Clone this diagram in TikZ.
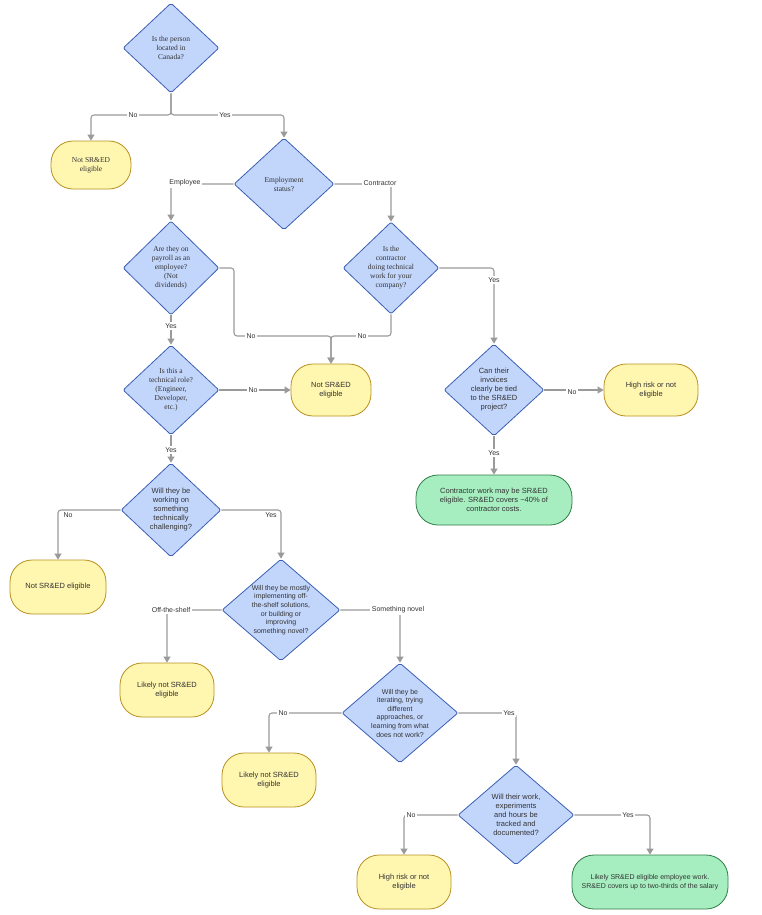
\documentclass[tikz,border=0pt]{standalone}
\usepackage{fontspec}
\setmainfont{Liberation Serif}
\setsansfont{Liberation Sans}
\usetikzlibrary{shapes.geometric,arrows.meta}
\definecolor{dfill}{HTML}{C2D5FB}
\definecolor{dline}{HTML}{3B5FB5}
\definecolor{yfill}{HTML}{FFF6B0}
\definecolor{yline}{HTML}{B8901E}
\definecolor{gfill}{HTML}{A6EEC0}
\definecolor{gline}{HTML}{2E7D46}
\definecolor{cline}{HTML}{9A9A9A}
\definecolor{tcol}{HTML}{333333}
\tikzset{
  dia/.style n args={2}{diamond,draw=dline,fill=dfill,line width=0.8pt,rounded corners=2pt,minimum width=#1,minimum height=#2,inner sep=0pt},
  dtxt/.style={align=center,font=\fontsize{7.5}{9}\selectfont,text=tcol},
  dtxts/.style={align=center,font=\sffamily\fontsize{7}{8.6}\selectfont,text=tcol},
  ybox/.style n args={2}{rectangle,rounded corners=22pt,draw=yline,fill=yfill,line width=0.8pt,minimum width=#1,minimum height=#2,align=center,font=\sffamily\fontsize{7.5}{9}\selectfont,text=tcol},
  gbox/.style n args={2}{rectangle,rounded corners=22pt,draw=gline,fill=gfill,line width=0.8pt,minimum width=#1,minimum height=#2,align=center,font=\sffamily\fontsize{7.5}{9}\selectfont,text=tcol},
  conn/.style={draw=cline,line width=1.1pt,rounded corners=3pt,-{Triangle[length=6pt,width=7pt]}},
  lbl/.style={fill=white,inner sep=1.5pt,font=\sffamily\fontsize{7}{8}\selectfont,text=tcol},
}
\begin{document}
\begin{tikzpicture}[x=1pt,y=-1pt]
\useasboundingbox (0,0) rectangle (761,915);
% diamonds
\node[dia={96}{90}] (d1) at (171,48) {};
\node[dtxt] (d1t) at (d1) {Is the person\\located in\\Canada?};
\node[dia={100}{92}] (d2) at (284,184) {};
\node[dtxt] (d2t) at (d2) {Employment\\status?};
\node[dia={96}{94}] (d3) at (171,268) {};
\node[dtxt] (d3t) at (d3) {Are they on\\payroll as an\\employee?\\(Not\\dividends)};
\node[dia={96}{92}] (d4) at (391,268) {};
\node[dtxt] (d4t) at (d4) {Is the\\contractor\\doing technical\\work for your\\company?};
\node[dia={96}{90}] (d5) at (171,390) {};
\node[dtxt] (d5t) at (d5) {Is this a\\technical role?\\(Engineer,\\Developer,\\etc.)};
\node[dia={100}{92}] (d6) at (494,390) {};
\node[dtxts,font=\sffamily\fontsize{7.5}{9}\selectfont] (d6t) at (d6) {Can their\\invoices\\clearly be tied\\to the SR\&ED\\project?};
\node[dia={100}{94}] (d7) at (171,510) {};
\node[dtxts,font=\sffamily\fontsize{7.5}{9}\selectfont] (d7t) at (d7) {Will they be\\working on\\something\\technically\\challenging?};
\node[dia={118}{102}] (d8) at (281,610) {};
\node[dtxts] (d8t) at (d8) {Will they be mostly\\implementing off-\\the-shelf solutions,\\or building or\\improving\\something novel?};
\node[dia={116}{100}] (d9) at (400,713) {};
\node[dtxts] (d9t) at (d9) {Will they be\\iterating, trying\\different\\approaches, or\\learning from what\\does not work?};
\node[dia={116}{100}] (d10) at (516,815) {};
\node[dtxts,font=\sffamily\fontsize{7.5}{9}\selectfont] (d10t) at (d10) {Will their work,\\experiments\\and hours be\\tracked and\\documented?};
% terminals
\node[ybox={80}{48},font=\fontsize{7.5}{9}\selectfont] (n1) at (91,165) {Not SR\&ED\\eligible};
\node[ybox={80}{52}] (n2) at (331,390) {Not SR\&ED\\eligible};
\node[ybox={94}{52}] (n3) at (651,390) {High risk or not\\eligible};
\node[gbox={156}{50}] (g1) at (494,500) {Contractor work may be SR\&ED\\eligible. SR\&ED covers \textasciitilde40\% of\\contractor costs.};
\node[ybox={96}{54}] (n4) at (58,587) {Not SR\&ED eligible};
\node[ybox={94}{54}] (n5) at (167,690) {Likely not SR\&ED\\eligible};
\node[ybox={94}{54}] (n6) at (269,780) {Likely not SR\&ED\\eligible};
\node[ybox={94}{54}] (n7) at (404,882) {High risk or not\\eligible};
\node[gbox={156}{54},font=\sffamily\fontsize{7}{8.6}\selectfont] (g2) at (650,882) {Likely SR\&ED eligible employee work.\\SR\&ED covers up to two-thirds of the salary};
% connectors
\draw[conn] (d1.south) -- (d1.south |- 0,115) -| (n1.north);
\draw[conn] (d1.south) -- (d1.south |- 0,115) -| (d2.north);
\draw[conn] (d2.west) -| (d3.north);
\draw[conn] (d2.east) -| (d4.north);
\draw[conn] (d3.east) -- (234,268) -- (234,336) -| (n2.north);
\draw[conn] (d4.south) -- (d4.south |- 0,336) -| (n2.north);
\draw[conn] (d3.south) -- (d5.north);
\draw[conn] (d4.east) -| (d6.north);
\draw[conn] (d5.east) -- (n2.west);
\draw[conn] (d6.east) -- (n3.west);
\draw[conn] (d6.south) -- (g1.north);
\draw[conn] (d5.south) -- (d7.north);
\draw[conn] (d7.west) -| (n4.north);
\draw[conn] (d7.east) -| (d8.north);
\draw[conn] (d8.west) -| (n5.north);
\draw[conn] (d8.east) -| (d9.north);
\draw[conn] (d9.west) -| (n6.north);
\draw[conn] (d9.east) -| (d10.north);
\draw[conn] (d10.west) -| (n7.north);
\draw[conn] (d10.east) -| (g2.north);
% labels
\node[lbl] (l1) at (133,115) {No};
\node[lbl] (l2) at (225,115) {Yes};
\node[lbl] (l3) at (185,183) {Employee};
\node[lbl] (l4) at (380,183) {Contractor};
\node[lbl] (l5) at (251,336) {No};
\node[lbl] (l6) at (362,336) {No};
\node[lbl] (l7) at (171,326) {Yes};
\node[lbl] (l8) at (494,280) {Yes};
\node[lbl] (l9) at (253,390) {No};
\node[lbl] (l10) at (572,392) {No};
\node[lbl] (l11) at (494,453) {Yes};
\node[lbl] (l12) at (171,450) {Yes};
\node[lbl] (l13) at (68,515) {No};
\node[lbl] (l14) at (271,515) {Yes};
\node[lbl] (l15) at (171,610) {Off-the-shelf};
\node[lbl] (l16) at (398,610) {Something novel};
\node[lbl] (l17) at (283,713) {No};
\node[lbl] (l18) at (509,713) {Yes};
\node[lbl] (l19) at (411,815) {No};
\node[lbl] (l20) at (628,815) {Yes};
\end{tikzpicture}
\end{document}
